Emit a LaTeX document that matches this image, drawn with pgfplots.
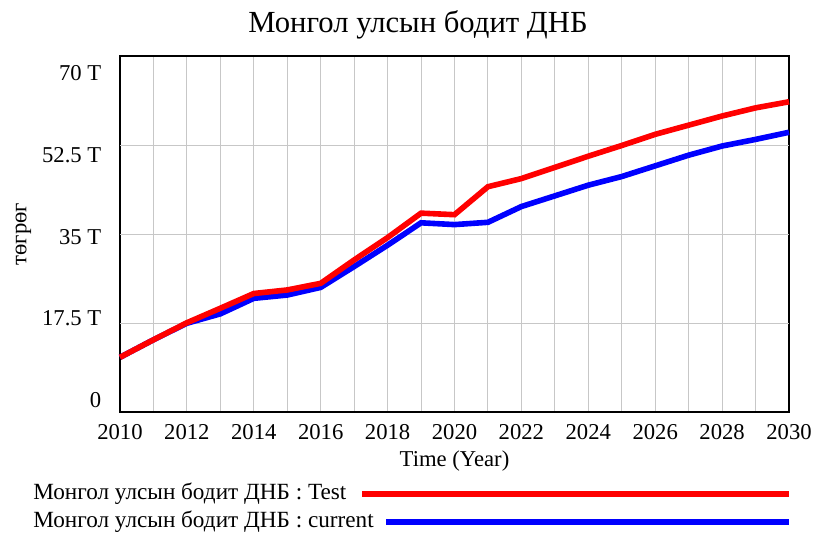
\documentclass[border=0pt]{standalone}
\usepackage{pgfplots}
\pgfplotsset{compat=1.18}
\usepackage{pgfplotstable}
\usepackage{fontspec}
\setmainfont{Liberation Serif}

\pgfplotstableread{
year test current
2010 10.75 10.75
2011 14.2 14.2
2012 17.55 17.45
2013 20.4 19.3
2014 23.3 22.35
2015 24.0 23.0
2016 25.3 24.5
2017 29.9 28.6
2018 34.3 32.8
2019 39.1 37.2
2020 38.8 36.85
2021 44.3 37.3
2022 45.9 40.4
2023 48.1 42.5
2024 50.3 44.6
2025 52.4 46.3
2026 54.6 48.4
2027 56.4 50.5
2028 58.2 52.3
2029 59.8 53.6
2030 61.0 55.0
}\gdpdata

\begin{document}
\begin{tikzpicture}[x=0.75pt,y=0.75pt]
\path[use as bounding box] (0,0) rectangle (814,533);
\node[font=\fontsize{23}{26}\selectfont] at (418,508) {Монгол улсын бодит ДНБ};
\begin{axis}[
  at={(90pt,90.75pt)}, anchor=south west,
  scale only axis, width=501.75pt, height=267pt,
  xmin=2010, xmax=2030, ymin=0, ymax=70,
  axis line style={line width=2.2pt},
  xtick={2010,2012,...,2030},
  minor xtick={2011,2013,...,2029},
  xmajorgrids, xminorgrids,
  x tick label style={/pgf/number format/1000 sep={}, yshift=-6pt},
  y tick label style={xshift=-10.5pt},
  ytick={2.36,18.48,34.4,50.53,66.66},
  yticklabels={0,17.5 T,35 T,52.5 T,70 T},
  ytick style={draw=none},
  xtick style={draw=none},
  minor tick style={draw=none},
  extra y ticks={17.5,35,52.5},
  extra y tick labels={},
  extra y tick style={ymajorgrids=true},
  grid style={black!22, line width=0.75pt},
  minor grid style={black!22, line width=0.75pt},
  /pgf/number format/assume math mode=true,
  tick label style={font=\fontsize{17}{20}\selectfont},
  label style={font=\fontsize{17}{20}\selectfont},
  xlabel={Time (Year)},
  ylabel={төгрөг},
  xlabel style={at={(axis description cs:0.5,-0.1376)}, anchor=center},
  ylabel style={at={(axis description cs:-0.1445,0.5)}, anchor=center},
  clip=false,
]
\addplot[blue, line width=4.2pt] table[x=year, y=current] {\gdpdata};
\addplot[red, line width=4.2pt] table[x=year, y=test] {\gdpdata};
\end{axis}
\node[anchor=west, font=\fontsize{17.4}{20}\selectfont, inner sep=0pt] at (33,39) {Монгол улсын бодит ДНБ : Test};
\draw[red, line width=4pt] (362,39) -- (789,39);
\node[anchor=west, font=\fontsize{17.4}{20}\selectfont, inner sep=0pt] at (33,11) {Монгол улсын бодит ДНБ : current};
\draw[blue, line width=4pt] (386,11) -- (789,11);
\end{tikzpicture}
\end{document}
